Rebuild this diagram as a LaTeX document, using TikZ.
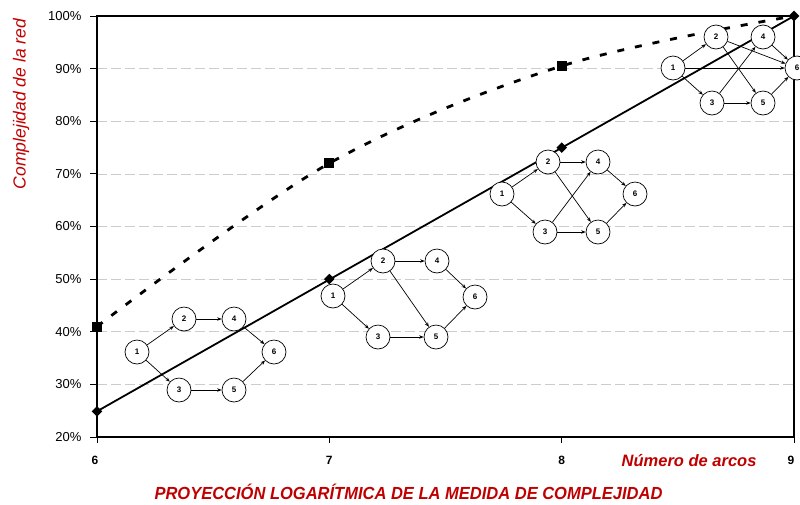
\documentclass[tikz,border=0pt]{standalone}
\usepackage{fontspec}
\setmainfont{Liberation Sans}
\usetikzlibrary{arrows.meta}
\definecolor{titlered}{RGB}{192,0,0}
\tikzset{
  netnode/.style={circle, draw=black, line width=0.7pt, fill=white, minimum size=24pt, inner sep=0pt, font=\fontsize{8}{8}\selectfont\bfseries},
  netarc/.style={line width=0.7pt, -{Stealth[length=4.5pt,width=3.5pt]}},
  gridline/.style={draw=black!20, line width=0.7pt, dash pattern=on 10pt off 4pt},
  axisline/.style={line width=1.5pt},
  tickline/.style={line width=0.8pt},
  ylab/.style={anchor=east, font=\fontsize{13}{13}\selectfont},
  xlab/.style={anchor=north, font=\fontsize{12}{12}\selectfont\bfseries},
  redtitle/.style={text=titlered, font=\fontsize{16.5}{16.5}\selectfont\bfseries\itshape},
  redside/.style={text=titlered, font=\fontsize{17.5}{17.5}\selectfont\itshape},
  redmain/.style={text=titlered, font=\fontsize{17.5}{17.5}\selectfont\bfseries\itshape, xscale=0.943},
  diamondmark/.style={draw=none, fill=black, inner sep=0pt, rotate=45, rectangle, minimum size=7.5pt},
  squaremark/.style={draw=none, fill=black, minimum size=10pt, inner sep=0pt, rectangle},
  solidcurve/.style={line width=1.8pt},
  dashcurve/.style={line width=2.8pt, dash pattern=on 7pt off 11pt},
}
\begin{document}
\begin{tikzpicture}[x=1pt,y=-1pt]
\useasboundingbox (0,0) rectangle (800,504);
% grid lines
\foreach \p in {30,40,50,60,70,80,90} {
  \draw[gridline] (97,{437-(\p-20)*5.2625}) -- (794,{437-(\p-20)*5.2625});
}
% frame
\coordinate (bl) at (97,437);
\coordinate (br) at (794,437);
\coordinate (tl) at (97,16);
\coordinate (tr) at (794,16);
\draw[axisline] (bl) -- (br) -- (tr) -- (tl) -- cycle;
% y ticks and labels
\foreach \p in {20,30,40,50,60,70,80,90,100} {
  \draw[tickline] (90,{437-(\p-20)*5.2625}) -- (97,{437-(\p-20)*5.2625});
  \node[ylab] (ylab\p) at (85,{437-(\p-20)*5.2625}) {\p\%};
}
% x ticks and labels
\foreach \v/\x/\lx in {6/97/95,7/329.3/329.3,8/561.7/561.7,9/794/791} {
  \draw[tickline] (\x,437) -- (\x,443);
  \node[xlab] (xlab\v) at (\lx,453) {\v};
}
% data coordinates
\coordinate (s6) at (97,411.3);
\coordinate (s7) at (329.3,279.1);
\coordinate (s8) at (561.7,147.6);
\coordinate (s9) at (794,16);
\coordinate (d6) at (97,326.5);
\coordinate (d7) at (329.3,163.3);
\coordinate (d8) at (561.7,66);
\coordinate (d9) at (794,16);
% curves
\draw[solidcurve] (s6) -- (s9);
\draw[dashcurve] plot[smooth, tension=0.55] coordinates {(97,326.5) (329.3,163.3) (561.7,66) (794,16)};
% network 1 (6 arcs)
\node[netnode] (a1) at (137,352) {1};
\node[netnode] (a2) at (184,319) {2};
\node[netnode] (a4) at (234,319) {4};
\node[netnode] (a6) at (274,352) {6};
\node[netnode] (a3) at (179,390) {3};
\node[netnode] (a5) at (234,390) {5};
\draw[netarc] (a1) -- (a2);
\draw[netarc] (a1) -- (a3);
\draw[netarc] (a2) -- (a4);
\draw[netarc] (a3) -- (a5);
\draw[netarc] (a4) -- (a6);
\draw[netarc] (a5) -- (a6);
% network 2 (7 arcs)
\node[netnode] (b1) at (333,296) {1};
\node[netnode] (b2) at (383,261) {2};
\node[netnode] (b4) at (437,261) {4};
\node[netnode] (b6) at (475,297) {6};
\node[netnode] (b3) at (378,337) {3};
\node[netnode] (b5) at (436,337) {5};
\draw[netarc] (b1) -- (b2);
\draw[netarc] (b1) -- (b3);
\draw[netarc] (b2) -- (b4);
\draw[netarc] (b2) -- (b5);
\draw[netarc] (b3) -- (b5);
\draw[netarc] (b4) -- (b6);
\draw[netarc] (b5) -- (b6);
% network 3 (8 arcs)
\node[netnode] (c1) at (502,194) {1};
\node[netnode] (c2) at (548,162) {2};
\node[netnode] (c4) at (598,162) {4};
\node[netnode] (c6) at (635,194) {6};
\node[netnode] (c3) at (545,232) {3};
\node[netnode] (c5) at (598,232) {5};
\draw[netarc] (c1) -- (c2);
\draw[netarc] (c1) -- (c3);
\draw[netarc] (c2) -- (c4);
\draw[netarc] (c2) -- (c5);
\draw[netarc] (c3) -- (c4);
\draw[netarc] (c3) -- (c5);
\draw[netarc] (c4) -- (c6);
\draw[netarc] (c5) -- (c6);
% network 4 (9 arcs)
\node[netnode] (e1) at (673,68) {1};
\node[netnode] (e2) at (716,37) {2};
\node[netnode] (e4) at (763,37) {4};
\node[netnode] (e6) at (797,68) {6};
\node[netnode] (e3) at (712,103) {3};
\node[netnode] (e5) at (763,103) {5};
\draw[netarc] (e1) -- (e2);
\draw[netarc] (e1) -- (e3);
\draw[netarc] (e1) -- (e6);
\draw[netarc] (e2) -- (e5);
\draw[netarc] (e2) -- (e6);
\draw[netarc] (e3) -- (e4);
\draw[netarc] (e3) -- (e5);
\draw[netarc] (e4) -- (e6);
\draw[netarc] (e5) -- (e6);
% markers
\foreach \c in {s6,s7,s8,s9} { \node[diamondmark] (m\c) at (\c) {}; }
\foreach \c in {d6,d7,d8} { \node[squaremark] (m\c) at (\c) {}; }
% titles
\node[redside, rotate=90] (ytitle) at (21,104) {Complejidad de la red};
\node[redtitle, anchor=east] (xtitle) at (760,461) {Número de arcos};
\node[redmain] (maintitle) at (408.5,492) {PROYECCIÓN LOGARÍTMICA DE LA MEDIDA DE COMPLEJIDAD};
\end{tikzpicture}
\end{document}
